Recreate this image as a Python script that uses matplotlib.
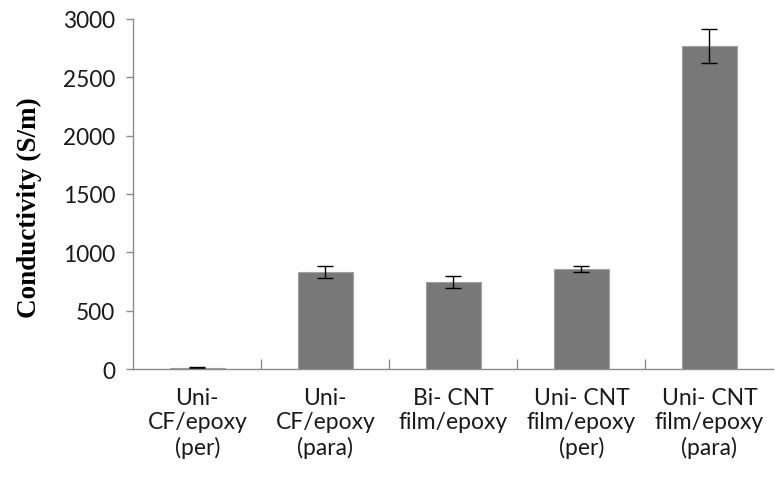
import matplotlib
matplotlib.use("Agg")
import matplotlib.pyplot as plt
import numpy as np

categories = [
    "Uni-\nCF/epoxy\n(per)",
    "Uni-\nCF/epoxy\n(para)",
    "Bi- CNT\nfilm/epoxy\n ",
    "Uni- CNT\nfilm/epoxy\n(per)",
    "Uni- CNT\nfilm/epoxy\n(para)",
]
conductivity = [10, 830, 745, 860, 2770]
conductivity_err = [4, 50, 50, 25, 145]

BAR_COLOUR = "#787878"
AXIS_COLOUR = "#8c8c8c"


def main() -> None:
    fig = plt.figure(figsize=(7.75, 4.85), dpi=100)
    ax = fig.add_axes([0.172, 0.237, 0.826, 0.722])

    x = np.arange(len(categories))
    ax.bar(x, conductivity, width=0.43, color=BAR_COLOUR,
           edgecolor="#a0a0a0", linewidth=0.8,
           yerr=conductivity_err, capsize=5.5,
           error_kw=dict(ecolor="black", elinewidth=1.0, capthick=1.0))

    ax.set_xlim(-0.5, len(categories) - 0.5)
    ax.set_ylim(0, 3000)
    ax.set_yticks(np.arange(0, 3001, 500))

    # category labels centred, tick marks on the category boundaries
    ax.set_xticks(x)
    ax.set_xticklabels(categories, fontsize=16.5, family="Lato",
                       linespacing=1.18, color="#1a1a1a")
    ax.tick_params(axis="x", length=0, pad=13)
    ax.set_xticks(np.arange(0.5, len(categories) - 1, 1.0), minor=True)
    ax.tick_params(axis="x", which="minor", direction="in", length=7,
                   color=AXIS_COLOUR, width=1.0)

    ax.tick_params(axis="y", labelsize=16.3, length=5, color=AXIS_COLOUR,
                   width=1.0, pad=8, labelcolor="#1a1a1a")
    for lbl in ax.get_yticklabels():
        lbl.set_family("Lato")

    ax.set_ylabel("Conductivity (S/m)", fontsize=19.5, fontweight="bold",
                  family="Liberation Serif")
    ax.yaxis.set_label_coords(-0.143, 0.465)

    ax.spines["top"].set_visible(False)
    ax.spines["right"].set_visible(False)
    for side in ("left", "bottom"):
        ax.spines[side].set_color(AXIS_COLOUR)
        ax.spines[side].set_linewidth(1.0)

    fig.savefig("out.png", dpi=100)
    plt.close(fig)


if __name__ == "__main__":
    main()
